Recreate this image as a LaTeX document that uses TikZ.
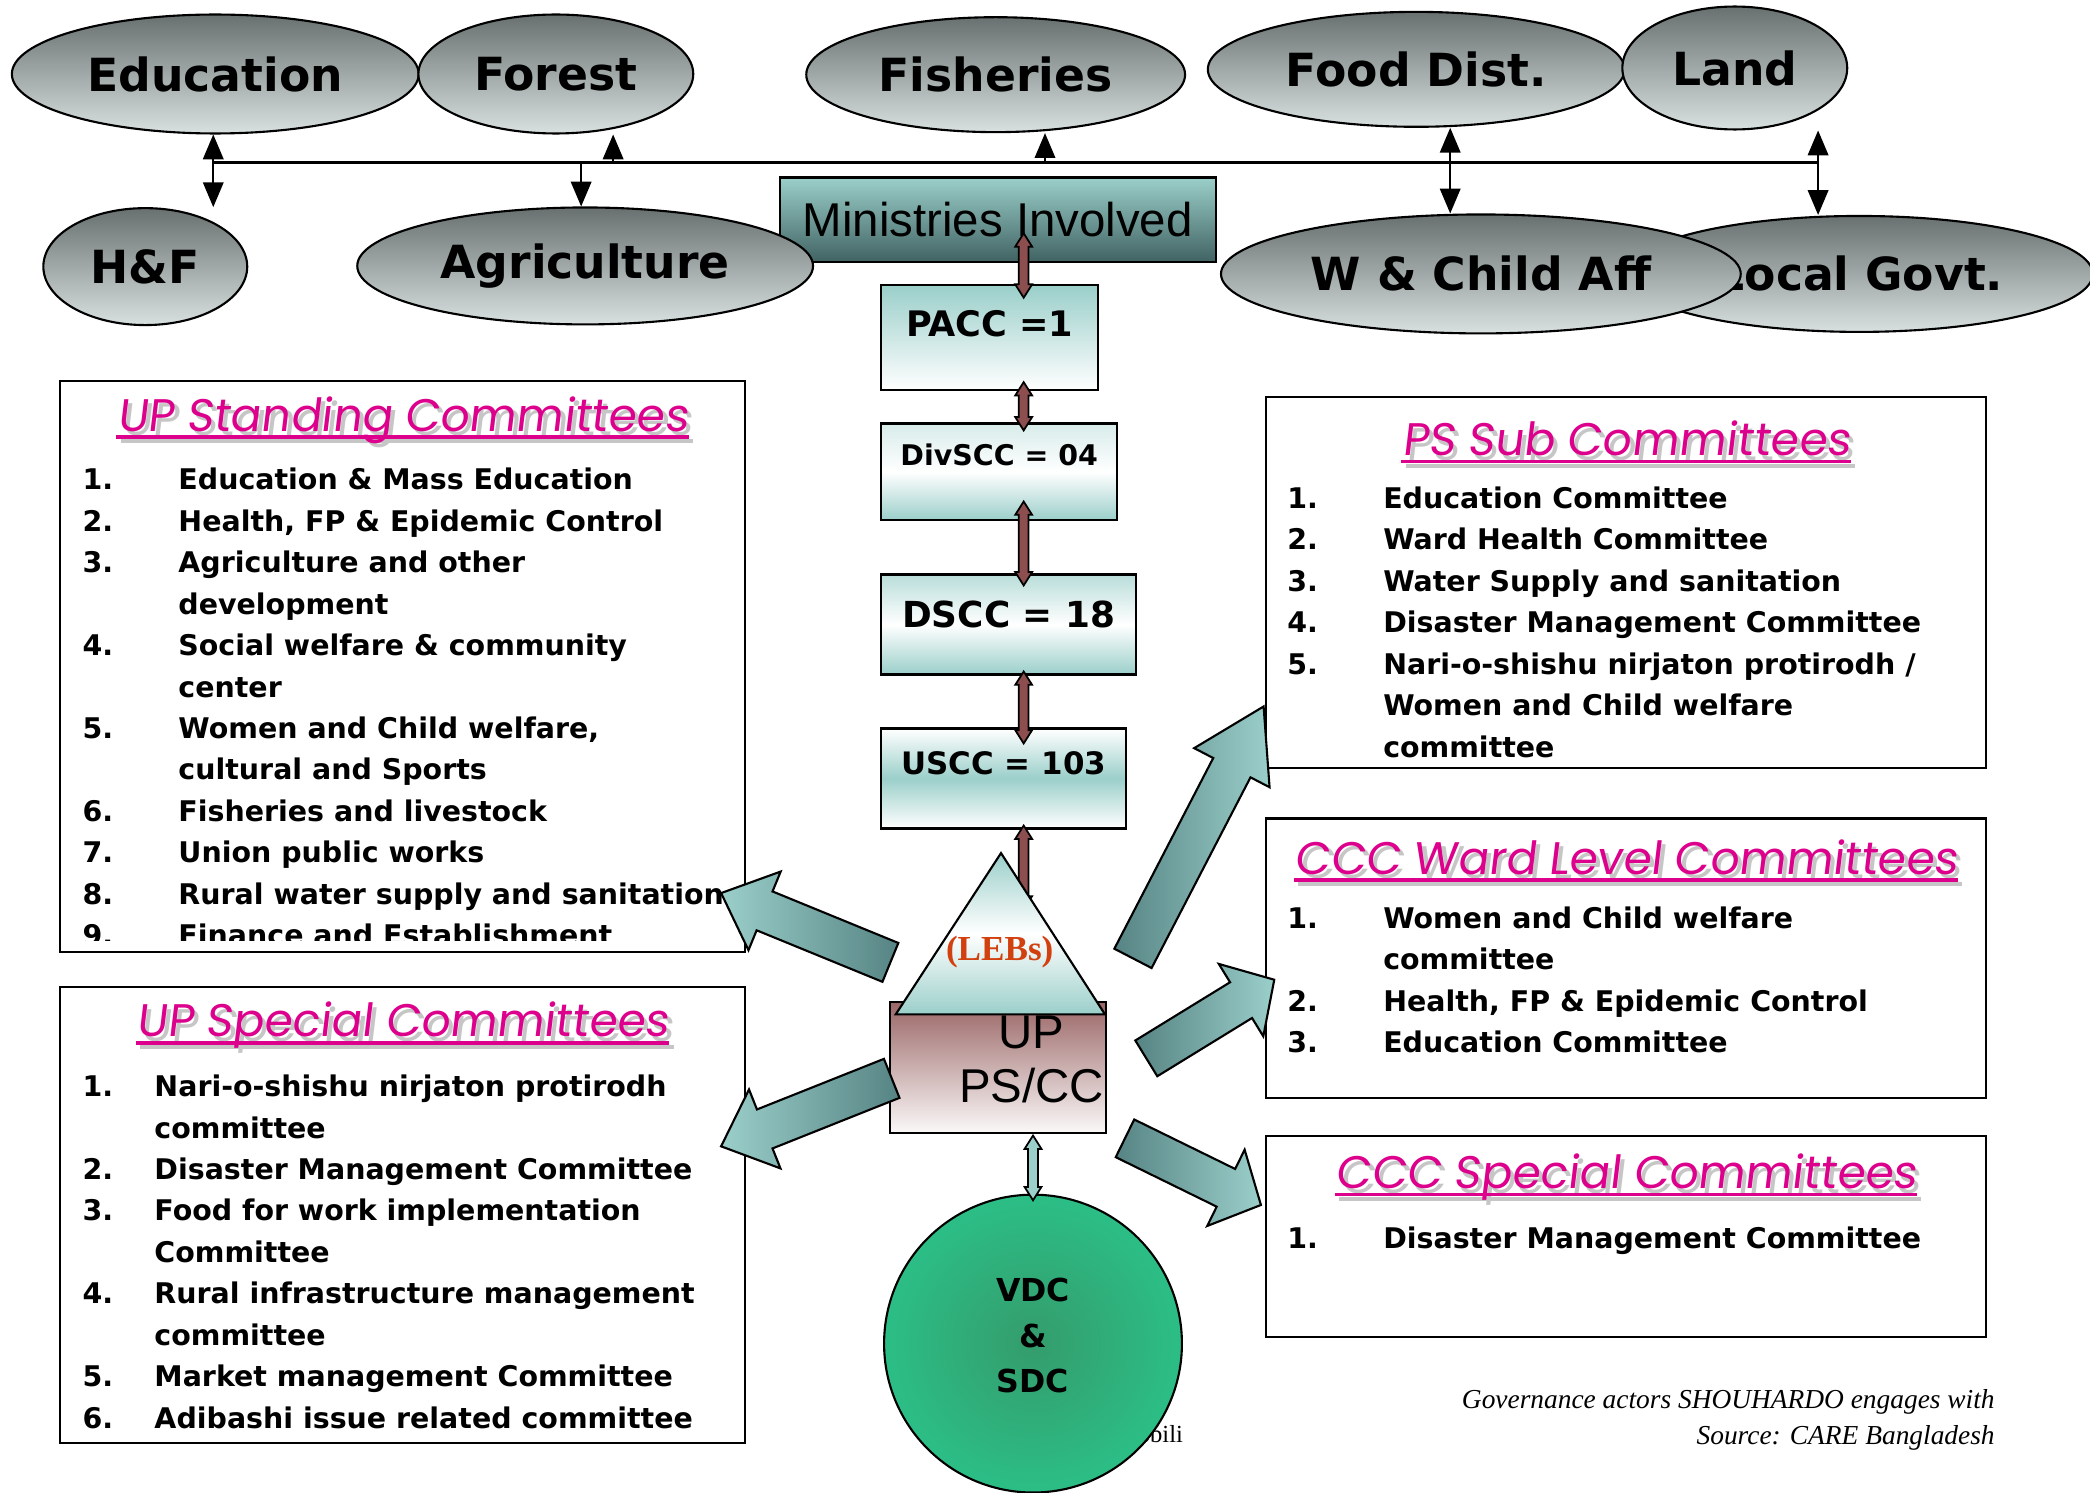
\documentclass[tikz,border=0pt]{standalone}
\usepackage{fontspec}
\setmainfont{Liberation Serif}
\setsansfont{Liberation Sans}
\newfontfamily\heavyfont{DejaVu Sans}
\newfontfamily\titlefont[FakeSlant=0.12]{Poppins}
\usepackage{tikz}
\usetikzlibrary{positioning, calc, arrows, shapes}
\tikzset{>=triangle 45}
\definecolor{lteal}{RGB}{155,207,202}
\definecolor{dteal}{RGB}{86,132,132}
\definecolor{mteal}{RGB}{64,98,98}
\definecolor{elltop}{RGB}{104,112,112}
\definecolor{ellbot}{RGB}{216,224,224}
\definecolor{chainred}{RGB}{140,78,78}
\definecolor{uprose}{RGB}{155,102,102}
\definecolor{ctpink}{RGB}{220,0,140}
\definecolor{lebred}{RGB}{210,64,16}
\definecolor{vdcin}{RGB}{52,156,108}
\definecolor{vdcout}{RGB}{44,190,134}
\tikzset{ministry/.style={draw, ellipse, semithick, top color=elltop, bottom color=ellbot, inner sep=0pt, font=\heavyfont\bfseries\fontsize{13}{15}\selectfont}}
\tikzset{listbox/.style={draw, semithick, fill=white, inner sep=0pt}}
\tikzset{listtext/.style={anchor=north west, inner sep=0pt, font=\heavyfont\bfseries\fontsize{8.1}{11.8}\selectfont}}
\tikzset{ctitle/.style={inner sep=0pt, text=ctpink, font=\titlefont\fontsize{13}{15}\selectfont}}
\tikzset{ccbox/.style={draw, semithick, inner sep=0pt, font=\heavyfont\bfseries\fontsize{#1}{#1}\selectfont}}

% thin double block arrow, top point to bottom point
\newcommand{\dblarrow}[3]{%
  \filldraw[fill=#1, draw=black, line width=0.5pt]
    (#2) -- ($(#2)+(2.4pt,-3.8pt)$) -- ($(#2)+(1.4pt,-3.8pt)$) --
    ($(#3)+(1.4pt,3.8pt)$) -- ($(#3)+(2.4pt,3.8pt)$) -- (#3) --
    ($(#3)+(-2.4pt,3.8pt)$) -- ($(#3)+(-1.4pt,3.8pt)$) --
    ($(#2)+(-1.4pt,-3.8pt)$) -- ($(#2)+(-2.4pt,-3.8pt)$) -- cycle;}

% fat block arrow, tail to tip, head length
\newcommand{\fatarrow}[4][]{%
  \coordinate (fa-h) at ($(#3)!#4!(#2)$);
  \shadedraw[semithick, #1]
    ($(#2)!2.1mm!90:(#3)$) -- ($(fa-h)!2.1mm!90:(#3)$) -- ($(fa-h)!4.25mm!90:(#3)$) --
    (#3) -- ($(fa-h)!4.25mm!-90:(#3)$) -- ($(fa-h)!2.1mm!-90:(#3)$) --
    ($(#2)!2.1mm!-90:(#3)$) -- cycle;}

% pink title with grey shadow and underline
\newcommand{\ctitle}[4]{%
  \node[ctitle, text=gray!45] (#1-sh) at ($(#2.north)+(0,#3)+(1.2pt,-1.2pt)$) {#4};
  \draw[gray!45, line width=1.1pt] ([yshift=-1.6pt]#1-sh.base west) -- ([yshift=-1.6pt]#1-sh.base east);
  \node[ctitle] (#1) at ($(#2.north)+(0,#3)$) {#4};
  \draw[ctpink, line width=1.1pt] ([yshift=-1.6pt]#1.base west) -- ([yshift=-1.6pt]#1.base east);}

\begin{document}
\begin{tikzpicture}
    [x=0.01333cm, y=-0.01333cm,
      conn/.style={line width=0.6pt},
      bigright/.style={left color=dteal, right color=lteal},
      bigleft/.style={left color=lteal, right color=dteal}]

    \useasboundingbox (0,0) rectangle (1568,1120);

    % ministries
    \node[ministry, minimum width=4.07cm, minimum height=1.19cm] (edu) at (161.5,55.5) {Education};
    \node[ministry, minimum width=2.75cm, minimum height=1.19cm] (forest) at (417,55.5) {Forest};
    \node[ministry, minimum width=3.79cm, minimum height=1.15cm] (fish) at (747,56) {Fisheries};
    \node[ministry, minimum width=4.17cm, minimum height=1.15cm] (food) at (1062.5,52) {Food Dist.};
    \node[ministry, minimum width=2.25cm, minimum height=1.23cm] (land) at (1301.5,51) {Land};

    \node[draw, semithick, top color=lteal, bottom color=mteal, minimum width=4.36cm, minimum height=0.85cm,
      inner sep=0pt, font=\sffamily\fontsize{13.5}{15}\selectfont] (mins) at (748.5,165) {Ministries Involved};

    \node[ministry, minimum width=2.04cm, minimum height=1.17cm] (hf) at (109,200) {H\&F};
    \node[ministry, minimum width=4.56cm, minimum height=1.17cm] (agri) at (439,199.5) {Agriculture};
    \node[ministry, minimum width=4.67cm, minimum height=1.16cm] (lgov) at (1395,205.5) {Local Govt.};
    \node[ministry, minimum width=5.20cm, minimum height=1.19cm] (wca) at (1111,205.5) {W \& Child Aff};

    \coordinate (b1) at (160,122);
    \coordinate (b2) at (436,122);
    \coordinate (b3) at (460,122);
    \coordinate (b4) at (784,122);
    \coordinate (b5) at (1088,122);
    \coordinate (b6) at (1364,122);
    \draw[line width=1pt] (b1) -- (b6);
    \draw[conn, <->] (b1 |- edu.south) -- (b1 |- hf.north);
    \draw[conn, ->] (b2) -- (b2 |- agri.north);
    \draw[conn, ->] (b3) -- (b3 |- forest.south);
    \draw[conn, ->] (b4) -- (b4 |- fish.south);
    \draw[conn, <->] (b5 |- food.south) -- (b5 |- wca.north);
    \draw[conn, <->] (b6 |- land.south) -- (b6 |- lgov.north);

    % committee boxes
    \node[listbox, minimum width=6.85cm, minimum height=5.71cm] (stbox) at (302,500) {};
    \ctitle{sttl}{stbox}{30}{UP Standing Committees}
    \begin{scope}
      \clip ($(stbox.north west)+(1,1)$) rectangle ($(stbox.south east)+(-1,-9)$);
      \node[listtext] (stlist) at ($(stbox.north west)+(17,60)$) {%
        \begin{tabular}{@{}p{0.96cm}@{}l@{}}
          1. & Education \& Mass Education\\
          2. & Health, FP \& Epidemic Control\\
          3. & Agriculture and other\\
             & development\\
          4. & Social welfare \& community\\
             & center\\
          5. & Women and Child welfare,\\
             & cultural and Sports\\
          6. & Fisheries and livestock\\
          7. & Union public works\\
          8. & Rural water supply and sanitation\\
          9. & Finance and Establishment
        \end{tabular}};
    \end{scope}

    \node[listbox, minimum width=6.85cm, minimum height=4.57cm] (spbox) at (302,911.5) {};
    \ctitle{spttl}{spbox}{30}{UP Special Committees}
    \node[listtext] (splist) at ($(spbox.north west)+(17,61)$) {%
      \begin{tabular}{@{}p{0.72cm}@{}l@{}}
        1. & Nari-o-shishu nirjaton protirodh\\
           & committee\\
        2. & Disaster Management Committee\\
        3. & Food for work implementation\\
           & Committee\\
        4. & Rural infrastructure management\\
           & committee\\
        5. & Market management Committee\\
        6. & Adibashi issue related committee
      \end{tabular}};

    \node[listbox, minimum width=7.20cm, minimum height=3.71cm] (psbox) at (1220,437) {};
    \ctitle{psttl}{psbox}{32}{PS Sub Committees}
    \node[listtext] (pslist) at ($(psbox.north west)+(16,62)$) {%
      \begin{tabular}{@{}p{0.96cm}@{}l@{}}
        1. & Education Committee\\
        2. & Ward Health Committee\\
        3. & Water Supply and sanitation\\
        4. & Disaster Management Committee\\
        5. & Nari-o-shishu nirjaton protirodh /\\
           & Women and Child welfare\\
           & committee
      \end{tabular}};

    \node[listbox, minimum width=7.20cm, minimum height=2.80cm] (wdbox) at (1220,719) {};
    \ctitle{wdttl}{wdbox}{30}{CCC Ward Level Committees}
    \node[listtext] (wdlist) at ($(wdbox.north west)+(16,61)$) {%
      \begin{tabular}{@{}p{0.96cm}@{}l@{}}
        1. & Women and Child welfare\\
           & committee\\
        2. & Health, FP \& Epidemic Control\\
        3. & Education Committee
      \end{tabular}};

    \node[listbox, minimum width=7.20cm, minimum height=2.01cm] (csbox) at (1220,927.5) {};
    \ctitle{csttl}{csbox}{32}{CCC Special Committees}
    \node[listtext] (cslist) at ($(csbox.north west)+(16,63)$) {%
      \begin{tabular}{@{}p{0.96cm}@{}l@{}}
        1. & Disaster Management Committee
      \end{tabular}};

    % coordinating committees
    \node[ccbox=10, top color=lteal, bottom color=white, minimum width=2.17cm, minimum height=1.05cm,
      text height=7.3pt, text depth=8pt] (pacc) at (742.5,253.5) {PACC =1};
    \node[ccbox=8.1, top color=lteal!40, bottom color=lteal, middle color=white, minimum width=2.36cm,
      minimum height=0.97cm, text height=5.9pt, text depth=9.5pt,
      below right=0.31cm and 0cm of pacc.south west] (divscc) {DivSCC = 04};
    \node[ccbox=10.2, top color=lteal!70, bottom color=lteal, middle color=white, minimum width=2.55cm,
      minimum height=1.0cm, text height=7.4pt, text depth=5.7pt,
      below right=0.52cm and 0cm of divscc.south west] (dscc) {DSCC = 18};
    \node[ccbox=8.8, top color=white, bottom color=white, middle color=lteal, minimum width=2.45cm,
      minimum height=1.0cm, text height=6.4pt, text depth=8.7pt,
      below right=0.52cm and 0cm of dscc.south west] (uscc) {USCC = 103};

    \coordinate (ax) at (768,0);
    \coordinate (a0t) at ($(mins.center -| ax)+(0,10)$);
    \coordinate (a0b) at ($(pacc.north -| ax)+(0,10)$);
    \coordinate (a1t) at ($(pacc.south -| ax)+(0,-7)$);
    \coordinate (a1b) at ($(divscc.north -| ax)+(0,6)$);
    \coordinate (a2t) at ($(divscc.south -| ax)+(0,-15)$);
    \coordinate (a2b) at ($(dscc.north -| ax)+(0,9)$);
    \coordinate (a3t) at ($(dscc.south -| ax)+(0,-3)$);
    \coordinate (a3b) at ($(uscc.north -| ax)+(0,12)$);
    \coordinate (a4t) at ($(uscc.south -| ax)+(0,-3)$);
    \coordinate (a4b) at ($(uscc.south -| ax)+(0,60)$);
    \dblarrow{chainred}{a0t}{a0b}
    \dblarrow{chainred}{a1t}{a1b}
    \dblarrow{chainred}{a2t}{a2b}
    \dblarrow{chainred}{a3t}{a3b}
    \dblarrow{chainred}{a4t}{a4b}

    % local elected bodies
    \node[draw, semithick, top color=uprose, bottom color=white!96!uprose, minimum width=2.16cm,
      minimum height=1.31cm, inner sep=0pt] (upps) at (749,801) {};
    \node[align=center, inner sep=0pt, font=\sffamily\fontsize{13.5}{15.5}\selectfont] (upps-t) at (774,795) {UP\\PS/CC};
    \coordinate (leb-a) at (751,640);
    \coordinate (leb-l) at (672,761);
    \coordinate (leb-r) at (829,761);
    \shadedraw[semithick, top color=lteal, bottom color=lteal, middle color=white] (leb-a) -- (leb-r) -- (leb-l) -- cycle;
    \node[text=lebred, font=\bfseries\fontsize{10}{12}\selectfont] (leb) at (750,714) {(LEBs)};

    \node[anchor=east, inner sep=0pt, font=\fontsize{7}{8}\selectfont] (mob) at (888,1076) {obili};
    \node[circle, draw, semithick, inner color=vdcin, outer color=vdcout, minimum size=2.98cm] (vdc) at (775,1008) {};
    \node[align=center, inner sep=0pt, font=\heavyfont\bfseries\fontsize{9}{12.9}\selectfont] (vdc-t)
      at ($(vdc.center)+(0,-6)$) {VDC\\\&\\SDC};
    \coordinate (v0t) at ($(upps.south -| vdc.north)+(0,1)$);
    \coordinate (v0b) at ($(vdc.north)+(0,5)$);
    \dblarrow{lteal}{v0t}{v0b}

    % arrows to the committees
    \coordinate (f1t) at (668,722);
    \coordinate (f1h) at (541,670);
    \coordinate (f2t) at (669,809);
    \coordinate (f2h) at (541,860);
    \coordinate (f3t) at (850,719);
    \coordinate (f3h) at (948,530);
    \coordinate (f4t) at (860,794);
    \coordinate (f4h) at (956,735);
    \coordinate (f5t) at (844,854);
    \coordinate (f5h) at (946,904);
    \fatarrow[bigleft]{f1t}{f1h}{4.7mm}
    \fatarrow[bigleft]{f2t}{f2h}{4.7mm}
    \fatarrow[bigright]{f3t}{f3h}{6.9mm}
    \fatarrow[bigright]{f4t}{f4h}{3.9mm}
    \fatarrow[bigright]{f5t}{f5h}{3.9mm}

    \node[anchor=east, align=right, inner sep=0pt, font=\itshape\fontsize{7.8}{10.2}\selectfont] (src) at (1497,1065)
      {Governance actors SHOUHARDO engages with\\Source: CARE Bangladesh};
  \end{tikzpicture}
\end{document}
